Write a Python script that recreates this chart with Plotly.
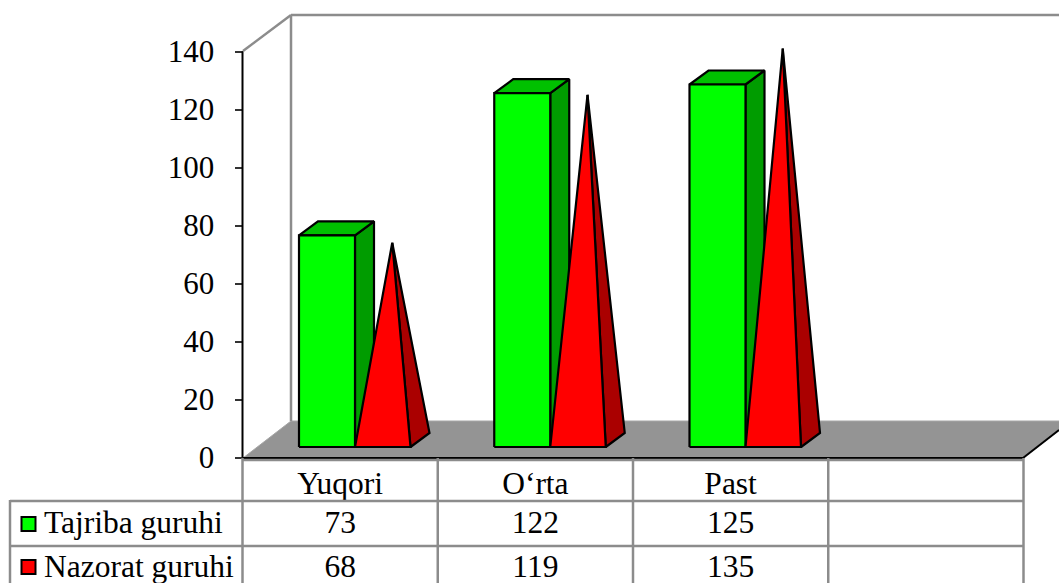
import plotly.graph_objects as go

categories = ["Yuqori", "O‘rta", "Past"]
series_names = ["Tajriba guruhi", "Nazorat guruhi"]
tajriba = [73, 122, 125]
nazorat = [68, 119, 135]
y_ticks = [0, 20, 40, 60, 80, 100, 120, 140]

W, H = 1059, 583
CAT_PX, X0_PX = 195.25, 242.5
UNIT_PX, Y0_PX = 2.9, 457.5
FONT = "Liberation Serif"
GREY = "#8c8c8c"
TEXT_SIZE = 31.5


def X(px):
    return (px - X0_PX) / CAT_PX


def Y(px):
    return (Y0_PX - px) / UNIT_PX


fig = go.Figure()


def poly(xs, ys, fill, line="#000000", width=2.2):
    fig.add_trace(go.Scatter(
        x=xs + xs[:1], y=ys + ys[:1], mode="lines", fill="toself", fillcolor=fill,
        line=dict(color=line, width=width, shape="linear"), hoverinfo="skip", showlegend=False,
    ))


def seg(x1, y1, x2, y2, color=GREY, width=2.5):
    fig.add_shape(type="line", xref="x", yref="y", x0=X(x1), y0=Y(y1), x1=X(x2), y1=Y(y2),
                  line=dict(color=color, width=width), layer="above")


# floor
fx = [X(243), X(1023), X(1071), X(291)]
fy = [Y(458), Y(458), Y(421), Y(421)]
poly(fx, fy, "#949494", line="#a6a6a6", width=1)

# perspective offsets
DX, DY = 19 / CAT_PX, 14 / UNIT_PX
BASE = Y(447)
BAR_W = 56 / CAT_PX
BAR_OFF = 56.5 / CAT_PX

for i, (a, b) in enumerate(zip(tajriba, nazorat)):
    x0 = i + BAR_OFF
    x1 = x0 + BAR_W
    x2 = x1 + BAR_W - 0.5 / CAT_PX
    ta = BASE + a
    # column
    poly([x1, x1 + DX, x1 + DX, x1], [BASE, BASE + DY, ta + DY, ta], "#009c00")
    poly([x0, x1, x1 + DX, x0 + DX], [ta, ta, ta + DY, ta + DY], "#00c000")
    poly([x0, x1, x1, x0], [BASE, BASE, ta, ta], "#00ff00")
    # pyramid
    ax = (x1 + x2 + DX) / 2
    ay = BASE + DY / 2 + b
    poly([x2, x2 + DX, ax], [BASE, BASE + DY, ay], "#aa0000")
    poly([x1, x2, ax], [BASE, BASE, ay], "#ff0000")

# back wall
seg(243, 51, 291, 15)
seg(291, 15, 1059, 15)
seg(291, 15, 291, 421)

# value axis and front edges
fig.add_shape(type="line", xref="x", yref="y", x0=0, x1=0, y0=0, y1=140,
              line=dict(color="#000000", width=2), layer="above")
seg(243, 458, 1023, 458, "#000000", 2)
seg(1023, 458, 1059, 430, "#000000", 2)

# data table
seg(243, 460, 1023, 460)
seg(10, 501, 1024, 501)
seg(10, 546, 1024, 546)
seg(10, 500, 10, 583)
for i in range(len(categories) + 2):
    px = X0_PX + i * CAT_PX
    seg(px, 458, px, 583)

# table text
cx = [i + 0.5 for i in range(len(categories))]
for col, row_px in ((categories, 486), (tajriba, 525), (nazorat, 569)):
    fig.add_trace(go.Scatter(
        x=cx, y=[Y(row_px)] * len(cx), mode="text", text=[str(v) for v in col],
        textposition="middle center", textfont=dict(family=FONT, size=TEXT_SIZE, color="#000000"),
        hoverinfo="skip", showlegend=False,
    ))
for name, row_text, row_key, color in zip(series_names, (525, 569), (524, 567), ("#00ff00", "#ff0000")):
    fig.add_trace(go.Scatter(
        x=[X(28.5)], y=[Y(row_key)], mode="markers",
        marker=dict(symbol="square", size=14, color=color, line=dict(color="#000000", width=2)),
        hoverinfo="skip", showlegend=False,
    ))
    fig.add_trace(go.Scatter(
        x=[X(44)], y=[Y(row_text)], mode="text", text=[name], textposition="middle right",
        textfont=dict(family=FONT, size=TEXT_SIZE, color="#000000"), hoverinfo="skip", showlegend=False,
    ))

fig.update_layout(
    width=W, height=H, margin=dict(l=0, r=0, t=0, b=0), autosize=False,
    paper_bgcolor="#ffffff", plot_bgcolor="#ffffff", showlegend=False,
    xaxis=dict(range=[X(0), X(W)], domain=[0, 1], visible=False, fixedrange=True),
    yaxis=dict(
        range=[Y(H), Y(0)], domain=[0, 1], anchor="free", position=X0_PX / W, side="left",
        tickmode="array", tickvals=y_ticks, ticktext=[str(v) for v in y_ticks],
        ticks="outside", ticklen=8, tickwidth=1.5, tickcolor="#333333", ticklabelstandoff=14,
        tickfont=dict(family=FONT, size=31, color="#000000"),
        showgrid=False, zeroline=False, showline=False, fixedrange=True,
    ),
)

fig.write_html(
    "out.html",
    config=dict(displayModeBar=False),
    post_script="document.body.style.margin='0';document.body.style.overflow='hidden';",
)
